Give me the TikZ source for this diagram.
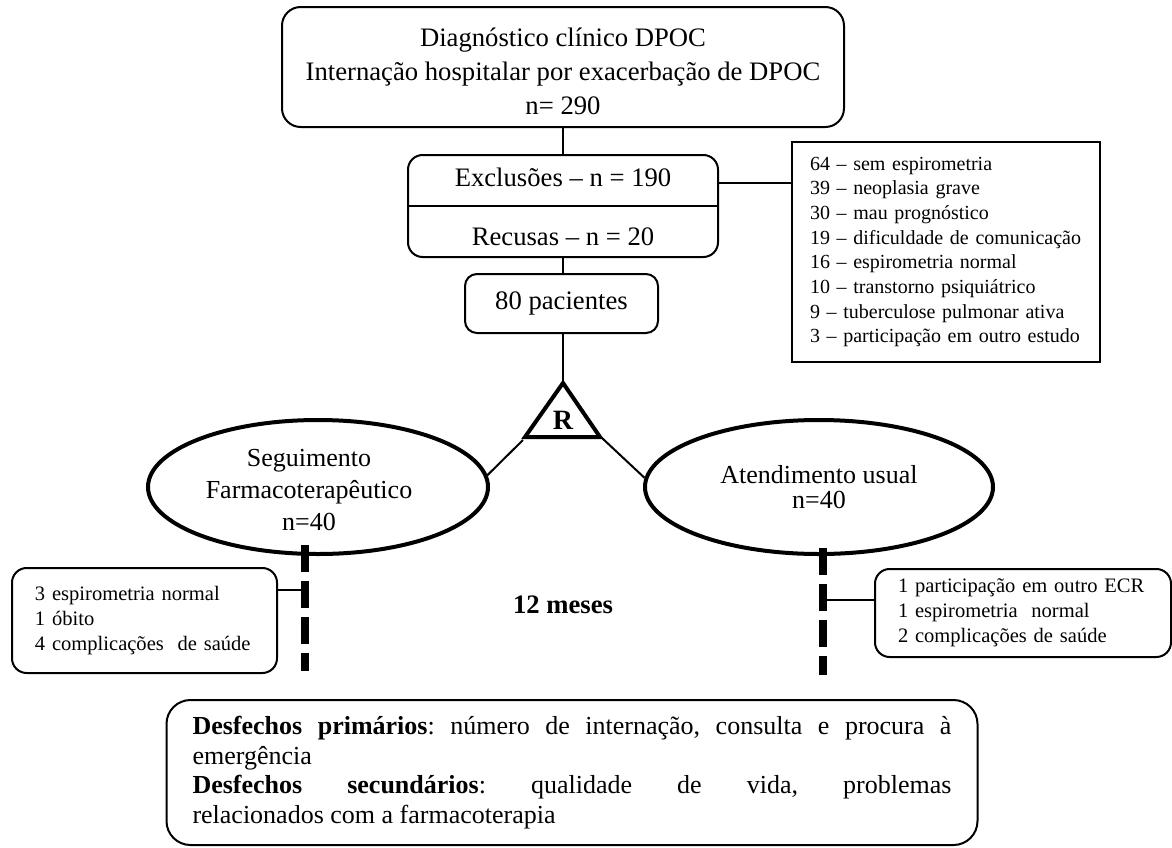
\documentclass[tikz,border=0pt]{standalone}
\usepackage{fontspec}
\setmainfont{Liberation Serif}
\usetikzlibrary{shapes.geometric}
\frenchspacing
\begin{document}
\begin{tikzpicture}[x=0.75pt,y=-0.75pt,
  box/.style={draw, rounded corners=#1, line width=1.5pt, inner sep=0pt},
  box/.default=11pt,
  conn/.style={line width=1.5pt},
  bigtxt/.style={font=\fontsize{20pt}{25.5pt}\selectfont, inner sep=0pt},
  midtxt/.style={font=\fontsize{19.5pt}{24pt}\selectfont, inner sep=0pt, align=center},
  smalltxt/.style={font=\fontsize{15.4pt}{18.75pt}\selectfont},
  listtxt/.style={font=\fontsize{15pt}{18.5pt}\selectfont},
  oval/.style={ellipse, draw, line width=3pt, minimum height=100.5pt, inner sep=0pt},
  dashline/.style={line width=5.5pt, dash pattern=on 20.25pt off 6.75pt}
]
\useasboundingbox (0,0) rectangle (1172,847);

% top box
\node[box=14pt, minimum width=421.5pt, minimum height=90pt] (top) at (563,67) {};
\node[bigtxt, align=center] (toptxt) at (563,71) {Diagnóstico clínico DPOC\\Internação hospitalar por exacerbação de DPOC\\n= 290};

% exclusions / refusals
\node[box=11pt, minimum width=232.5pt, minimum height=76.5pt] (excl) at (563,206) {};
\draw[conn] (excl.west) -- (excl.east);
\node[bigtxt] (exc) at (563,177) {Exclusões – n = 190};
\node[bigtxt] (rec) at (563,237) {Recusas – n = 20};

% 80 patients
\node[box=9pt, bigtxt, minimum width=144.75pt, minimum height=44.25pt] (pac) at (561.5,303.5) {80 pacientes};

% list of exclusions
\node[draw, line width=1.5pt, listtxt, minimum height=165pt, text width=204pt, inner xsep=13.5pt, inner ysep=0pt, align=left] (list) at (946,252)
  {64 – sem espirometria\\39 – neoplasia grave\\30 – mau prognóstico\\19 – dificuldade de comunicação\\16 – espirometria normal\\10 – transtorno psiquiátrico\\9 – tuberculose pulmonar ativa\\3 – participação em outro estudo};

\draw[conn] (top.south) -- (excl.north);
\draw[conn] (excl.south) -- (excl.south |- pac.north);
\coordinate (cE) at ([yshift=17.25pt]excl.east);
\draw[conn] (cE) -- (cE -| list.west);

% randomisation triangle
\coordinate (tA) at (563,383);
\coordinate (tL) at (525,437);
\coordinate (tR) at (600,437);
\draw[line width=3pt, line join=miter] (tA) -- (tL) -- (tR) -- cycle;
\node[font=\bfseries\fontsize{21pt}{21pt}\selectfont, inner sep=0pt] (R) at (563,420) {R};
\draw[conn] (tA |- pac.south) -- (tA);

% arms
\node[oval, minimum width=255pt] (fl) at (318,487) {};
\node[midtxt] (flt) at (309,490) {Seguimento\\Farmacoterapêutico\\n=40};
\node[oval, minimum width=261pt, align=center, font=\fontsize{19.5pt}{18.75pt}\selectfont] (fr) at (819,487) {Atendimento usual\\n=40};

\draw[conn] ([shift={(-2,3)}]tL) -- (fl.4);
\draw[conn] ([shift={(2,1)}]tR) -- (fr.177);

% dashed follow-up lines
\coordinate (dL1) at (305,545);
\coordinate (dL2) at (305,671);
\coordinate (dR1) at (823,548);
\coordinate (dR2) at (823,675);
\draw[dashline] (dL1) -- (dL2);
\draw[dashline] (dR1) -- (dR2);

% losses
\node[box=11pt, smalltxt, minimum height=78.75pt, text width=164.25pt, inner xsep=17.25pt, inner ysep=0pt, align=left] (sl) at (144.5,620.5)
  {3 espirometria normal\\1 óbito\\4 complicações\ \ de saúde};
\node[box=11pt, smalltxt, minimum height=66pt, text width=187.5pt, inner xsep=17.25pt, inner ysep=0pt, align=left] (sr) at (1023,613)
  {1 participação em outro ECR\\1 espirometria\ \ normal\\2 complicações de saúde};
\coordinate (cL) at ([yshift=22.875pt]sl.east);
\draw[conn] (cL) -- (cL -| dL1);
\coordinate (cR) at ([yshift=9.75pt]sr.west);
\draw[conn] (cR) -- (cR -| dR1);

\node[font=\bfseries\fontsize{20pt}{20pt}\selectfont, inner sep=0pt] (meses) at (563,605) {12 meses};

% outcomes
\node[box=18pt, minimum height=108.75pt, text width=569.25pt, inner xsep=19.5pt, inner ysep=0pt, align=justify, font=\fontsize{19.5pt}{22.3pt}\selectfont] (out) at (572,772.5)
  {\textbf{Desfechos primários}: número de internação, consulta e procura à\linebreak emergência\\\textbf{Desfechos secundários}: qualidade de vida, problemas\linebreak relacionados com a farmacoterapia};
\end{tikzpicture}
\end{document}
